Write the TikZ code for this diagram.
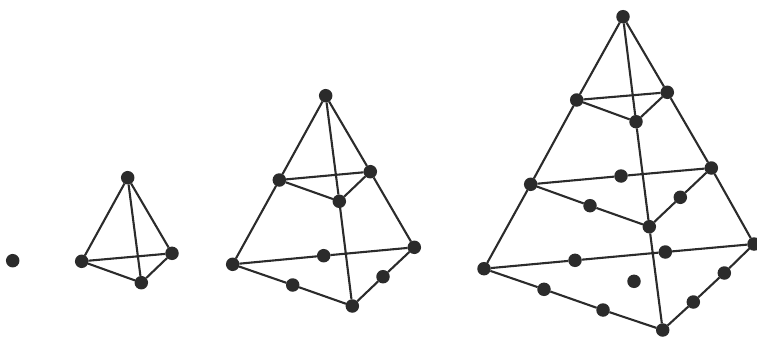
\documentclass[tikz,border=0pt]{standalone}
\definecolor{ink}{HTML}{2B2B2B}
\tikzset{
  dot/.style={circle,fill=ink,draw=none,minimum size=13.5pt,inner sep=0pt,outer sep=0pt},
  edge/.style={draw=ink,line width=2.1pt}
}
\begin{document}
\begin{tikzpicture}[x=1pt,y=-1pt]
\useasboundingbox (0,0) rectangle (757,337);
\clip (0,0) rectangle (757,337);
% coordinates are in reference pixels
\node[dot] (s) at (12.7,260.7) {};
% tetrahedron 1
\node[dot] (aA) at (127.7,177.7) {};
\node[dot] (aL) at (81.7,261.3) {};
\node[dot] (aR) at (172,253.3) {};
\node[dot] (aF) at (141.3,282.7) {};
\draw[edge] (aA)--(aL) (aA)--(aR) (aA)--(aF) (aL)--(aR) (aL)--(aF) (aF)--(aR);
% tetrahedron 2
\node[dot] (bA) at (325.7,95.7) {};
\node[dot] (bL1) at (279.3,180) {};
\node[dot] (bR1) at (370.3,171.7) {};
\node[dot] (bF1) at (339.3,201.3) {};
\node[dot] (bL2) at (232.7,264.3) {};
\node[dot] (bR2) at (414.3,247.3) {};
\node[dot] (bF2) at (352.3,306) {};
\node[dot] (bB) at (323.7,255.7) {};
\node[dot] (bLF) at (292.7,285) {};
\node[dot] (bFR) at (383,276.7) {};
\draw[edge] (bA)--(bL1)--(bL2) (bA)--(bR1)--(bR2) (bA)--(bF1)--(bF2)
  (bL1)--(bR1) (bL1)--(bF1)--(bR1)
  (bL2)--(bB)--(bR2) (bL2)--(bLF)--(bF2)--(bFR)--(bR2);
% tetrahedron 3
\node[dot] (cA) at (623,16.7) {};
\node[dot] (cL1) at (576.7,100) {};
\node[dot] (cR1) at (667.3,92.3) {};
\node[dot] (cF1) at (636,121.7) {};
\node[dot] (cL2) at (530.7,184.3) {};
\node[dot] (cR2) at (711.3,168) {};
\node[dot] (cF2) at (649.3,226.7) {};
\node[dot] (cB) at (621,176) {};
\node[dot] (cLF) at (590,205.7) {};
\node[dot] (cFR) at (680.3,197.3) {};
\node[dot] (cL3) at (484,268.7) {};
\node[dot] (cR3) at (754,244) {};
\node[dot] (cF3) at (662.7,330) {};
\node[dot] (cB1) at (575,260.3) {};
\node[dot] (cB2) at (665.3,252) {};
\node[dot] (cLF1) at (544,289.3) {};
\node[dot] (cLF2) at (603,310) {};
\node[dot] (cFR1) at (693.3,302) {};
\node[dot] (cFR2) at (724.3,273) {};
\node[dot] (cI) at (634,281.3) {};
\draw[edge] (cA)--(cL1)--(cL2)--(cL3) (cA)--(cR1)--(cR2)--(cR3) (cA)--(cF1)--(cF2)--(cF3)
  (cL1)--(cR1) (cL1)--(cF1)--(cR1)
  (cL2)--(cB)--(cR2) (cL2)--(cLF)--(cF2)--(cFR)--(cR2)
  (cL3)--(cB1)--(cB2)--(cR3) (cL3)--(cLF1)--(cLF2)--(cF3)--(cFR1)--(cFR2)--(cR3);
\end{tikzpicture}
\end{document}
